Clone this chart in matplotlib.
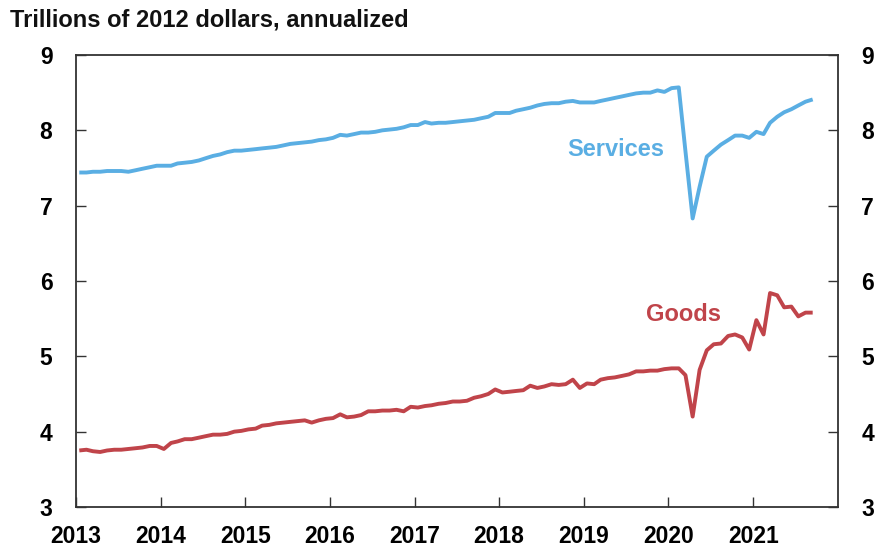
import matplotlib
matplotlib.use("Agg")
import matplotlib.pyplot as plt
import pandas as pd
import datetime as dt

plt.rcParams['font.family'] = ['Liberation Sans', 'DejaVu Sans']

# Monthly data, Jan 2013 - Sep 2021 (trillions of 2012 dollars, annualized)
services = [
    # 2013
    7.44, 7.44, 7.45, 7.45, 7.46, 7.46, 7.46, 7.45, 7.47, 7.49, 7.51, 7.53,
    # 2014
    7.53, 7.53, 7.56, 7.57, 7.58, 7.60, 7.63, 7.66, 7.68, 7.71, 7.73, 7.73,
    # 2015
    7.74, 7.75, 7.76, 7.77, 7.78, 7.80, 7.82, 7.83, 7.84, 7.85, 7.87, 7.88,
    # 2016
    7.90, 7.94, 7.93, 7.95, 7.97, 7.97, 7.98, 8.00, 8.01, 8.02, 8.04, 8.07,
    # 2017
    8.07, 8.11, 8.09, 8.10, 8.10, 8.11, 8.12, 8.13, 8.14, 8.16, 8.18, 8.23,
    # 2018
    8.23, 8.23, 8.26, 8.28, 8.30, 8.33, 8.35, 8.36, 8.36, 8.38, 8.39, 8.37,
    # 2019
    8.37, 8.37, 8.39, 8.41, 8.43, 8.45, 8.47, 8.49, 8.50, 8.50, 8.53, 8.51,
    # 2020
    8.56, 8.57, 7.72, 6.83, 7.25, 7.65, 7.73, 7.81, 7.87, 7.93, 7.93, 7.90,
    # 2021
    7.98, 7.95, 8.10, 8.18, 8.24, 8.28, 8.33, 8.38, 8.41,
]

goods = [
    # 2013
    3.75, 3.76, 3.74, 3.73, 3.75, 3.76, 3.76, 3.77, 3.78, 3.79, 3.81, 3.81,
    # 2014
    3.77, 3.85, 3.87, 3.90, 3.90, 3.92, 3.94, 3.96, 3.96, 3.97, 4.00, 4.01,
    # 2015
    4.03, 4.04, 4.08, 4.09, 4.11, 4.12, 4.13, 4.14, 4.15, 4.12, 4.15, 4.17,
    # 2016
    4.18, 4.23, 4.19, 4.20, 4.22, 4.27, 4.27, 4.28, 4.28, 4.29, 4.27, 4.33,
    # 2017
    4.32, 4.34, 4.35, 4.37, 4.38, 4.40, 4.40, 4.41, 4.45, 4.47, 4.50, 4.56,
    # 2018
    4.52, 4.53, 4.54, 4.55, 4.61, 4.58, 4.60, 4.63, 4.62, 4.63, 4.69, 4.58,
    # 2019
    4.64, 4.63, 4.69, 4.71, 4.72, 4.74, 4.76, 4.80, 4.80, 4.81, 4.81, 4.83,
    # 2020
    4.84, 4.84, 4.75, 4.20, 4.82, 5.08, 5.16, 5.17, 5.27, 5.29, 5.25, 5.09,
    # 2021
    5.48, 5.29, 5.84, 5.81, 5.65, 5.66, 5.53, 5.58, 5.58,
]

dates = pd.date_range('2013-01-01', periods=len(services), freq='MS') + pd.Timedelta(days=14)

years = list(range(2013, 2022))
yticks = [3, 4, 5, 6, 7, 8, 9]

BLUE = '#5aaee3'
RED = '#c0444a'
SPINE = '#333333'

fig = plt.figure(figsize=(8.77, 5.51), dpi=100)
ax = fig.add_axes([0.0867, 0.0799, 0.9552 - 0.0867, 0.9002 - 0.0799])

ax.plot(dates, services, color=BLUE, lw=2.8, solid_capstyle='butt', solid_joinstyle='round')
ax.plot(dates, goods, color=RED, lw=2.8, solid_capstyle='butt', solid_joinstyle='round')

ax.set_xlim(dt.datetime(2013, 1, 1), dt.datetime(2022, 1, 1))
ax.set_ylim(3, 9)
ax.set_xticks([dt.datetime(y, 1, 1) for y in years])
ax.set_xticklabels([str(y) for y in years])
ax.set_yticks(yticks)
ax.set_yticklabels([str(v) for v in yticks])

for s in ax.spines.values():
    s.set_color(SPINE)
    s.set_linewidth(1.3)

ax.tick_params(axis='x', direction='in', length=7, width=1.0, color=SPINE,
               pad=13, labelsize=16.5, top=False)
ax.tick_params(axis='y', direction='in', length=7, width=1.0, color=SPINE,
               pad=17, labelsize=16.5, left=True, right=True,
               labelleft=True, labelright=True)
for lab in ax.get_xticklabels() + ax.get_yticklabels():
    lab.set_fontweight('bold')
for t in ax.yaxis.get_major_ticks():
    t.label2.set_fontweight('bold')
    t.label2.set_fontsize(16.5)

ax.text(dt.datetime(2019, 5, 20), 7.75, 'Services', color=BLUE, fontsize=17,
        fontweight='bold', ha='center', va='center')
ax.text(dt.datetime(2020, 3, 8), 5.56, 'Goods', color=RED, fontsize=17,
        fontweight='bold', ha='center', va='center')

fig.text(0.011, 0.963, 'Trillions of 2012 dollars, annualized', fontsize=17,
         fontweight='bold', ha='left', va='center', color='#111111')

fig.savefig('out.png', dpi=100)
